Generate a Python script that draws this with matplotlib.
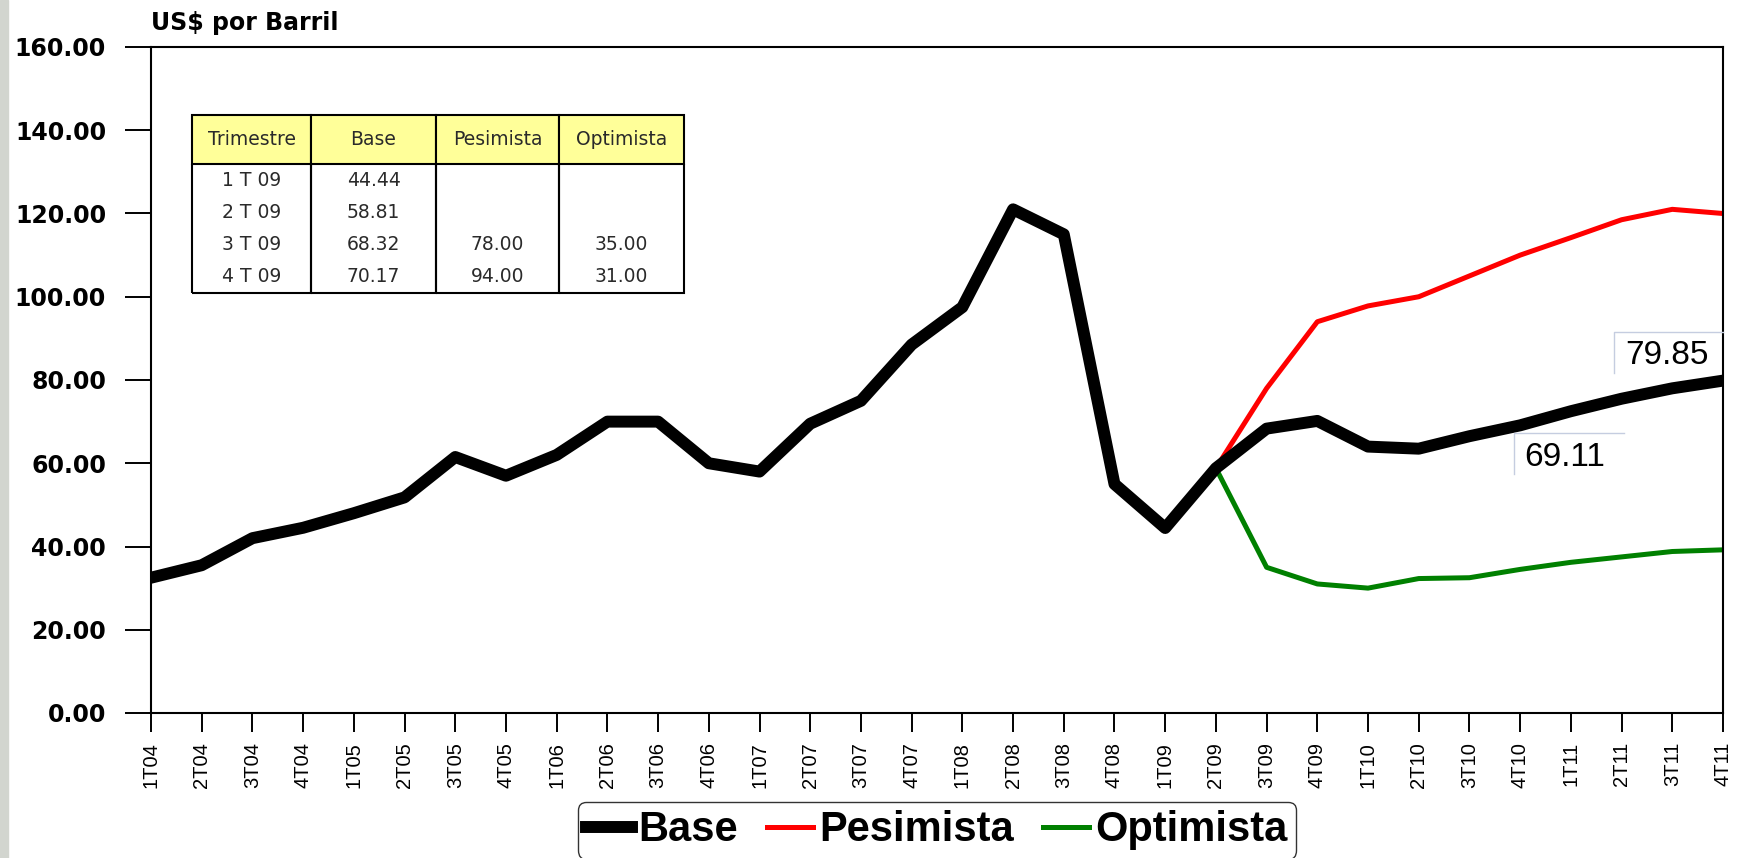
import numpy as np
import matplotlib
matplotlib.use('Agg')
import matplotlib.pyplot as plt
from matplotlib.patches import Rectangle
from matplotlib.lines import Line2D
from matplotlib.transforms import ScaledTranslation

# trimestres 1T04 .. 4T11
quarters = [f'{q}T{y:02d}' for y in range(4, 12) for q in range(1, 5)]

# escenario base (precio promedio trimestral)
base = [32.5, 35.5, 42.0, 44.5, 48.0, 51.8, 61.5, 57.0,
        62.0, 70.0, 70.0, 60.0, 58.0, 69.5, 75.0, 88.5,
        97.5, 121.0, 115.0, 55.0, 44.44, 58.81, 68.32, 70.17,
        64.0, 63.5, 66.5, 69.11, 72.5, 75.5, 78.0, 79.85]

# escenarios a partir de 2T09
start = 21
pesimista = [58.81, 78.0, 94.0, 97.8, 100.0, 105.0, 110.0, 114.2, 118.5, 121.0, 120.0]
optimista = [58.81, 35.0, 31.0, 30.0, 32.3, 32.5, 34.5, 36.2, 37.5, 38.8, 39.2]

# tabla resumen 2009
tab_rows = ['1 T 09', '2 T 09', '3 T 09', '4 T 09']
tab_cols = ['Trimestre', 'Base', 'Pesimista', 'Optimista']

W, H = 1739, 858
fig = plt.figure(figsize=(W / 100, H / 100), dpi=100)
fig.patch.set_facecolor('white')
# franja gris del fondo a la izquierda
fig.patches.append(Rectangle((0, 0), 8 / W, 1, transform=fig.transFigure,
                             color='#d2d5cf', zorder=0))

ax = fig.add_axes([151 / W, 1 - 713 / H, 1572 / W, 666 / H])
x = np.arange(len(quarters))
xs = x[start:]

l_pes, = ax.plot(xs, pesimista, color='#ff0000', lw=3.6, zorder=3)
l_opt, = ax.plot(xs, optimista, color='#008000', lw=3.6, zorder=3)
l_base, = ax.plot(x, base, color='black', lw=8.6, zorder=4)

ax.set_xlim(0, len(quarters) - 1)
ax.set_ylim(0, 160)
ax.set_yticks(np.arange(0, 161, 20))
ax.set_yticklabels([f'{v:.2f}' for v in np.arange(0, 161, 20)])
ax.set_xticks(x)
ax.set_xticklabels(quarters, rotation=90, fontsize=14.5, family='Liberation Sans')
for lbl in ax.get_yticklabels():
    lbl.set_fontweight('bold')
    lbl.set_fontsize(17)
ax.tick_params(axis='y', length=18.7, width=1.4, pad=13.7)
ax.tick_params(axis='x', length=13.7, width=1.4, pad=7)
for sp in ax.spines.values():
    sp.set_linewidth(1.5)
    sp.set_zorder(6)

ax.text(0, 1 + 24 / 666, 'US$ por Barril', transform=ax.transAxes,
        fontsize=17, fontweight='bold', va='center', ha='left')

# tabla
cell_text = []
for i, q in enumerate(tab_rows):
    k = 20 + i
    p = f'{pesimista[k - start]:.2f}' if k > start else ''
    o = f'{optimista[k - start]:.2f}' if k > start else ''
    cell_text.append([q, f'{base[k]:.2f}', p, o])

tab = ax.table(cellText=cell_text, colLabels=tab_cols, cellLoc='center',
               colLoc='center', bbox=[0.0261, 0.631, 0.313, 0.267])
tab.auto_set_font_size(False)
tab.set_fontsize(13.5)
tab.set_zorder(5)
col_w = [119, 125, 123, 125]
for (r, c), cell in tab.get_celld().items():
    cell.set_width(col_w[c])
    cell.set_height(49 if r == 0 else 32)
    cell.set_linewidth(1.5)
    cell.get_text().set_color('#2a2a2a')
    if r == 0:
        cell.set_facecolor('#ffff99')
        cell.visible_edges = 'closed'
    else:
        cell.set_facecolor('white')
        cell.visible_edges = 'BLR' if r == len(tab_rows) else 'LR'

# etiquetas de valores con marco parcial
def value_label(xi, val, tx, ty, box_x0, box_x1, box_y0, box_y1):
    tr = fig.dpi_scale_trans + ScaledTranslation(xi, val, ax.transData)
    ax.text(tx, ty, f'{val:.2f}', transform=tr, fontsize=24,
            family='Liberation Sans', ha='left', va='baseline', zorder=7)
    ax.add_line(Line2D([box_x0, box_x0, box_x1], [box_y0, box_y1, box_y1],
                       transform=tr, color='#c5cde0', lw=1, clip_on=False, zorder=7))

value_label(x[-1], base[-1], -0.98, 0.17, -1.09, 0.0, 0.08, 0.49)
value_label(x[27], base[27], 0.04, -0.41, -0.06, 1.04, -0.49, -0.08)

leg = fig.legend([l_base, l_pes, l_opt], ['Base', 'Pesimista', 'Optimista'],
                 loc='upper center', bbox_to_anchor=(937 / W, 1 - 802 / H),
                 ncol=3, prop={'family': 'Liberation Sans', 'weight': 'bold', 'size': 30},
                 handlelength=1.1, handletextpad=0.15, columnspacing=0.7,
                 borderpad=0.2, borderaxespad=0, fancybox=True, frameon=True)
leg.get_frame().set_edgecolor('black')
leg.get_frame().set_linewidth(1.0)

fig.savefig('out.png', dpi=100)
